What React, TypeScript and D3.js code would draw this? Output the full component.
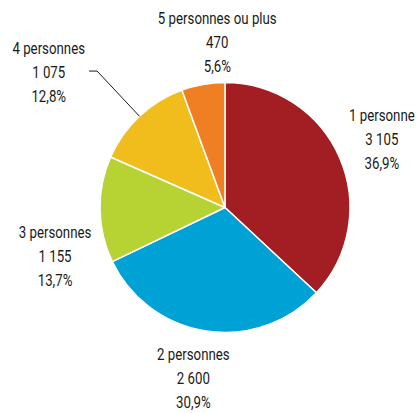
import React, { useRef, useEffect } from "react";
import * as d3 from "d3";

// Ménages selon le nombre de personnes
const categories = ["1 personne", "2 personnes", "3 personnes", "4 personnes", "5 personnes ou plus"];
const counts = [3105, 2600, 1155, 1075, 470];
const countLabels = ["3 105", "2 600", "1 155", "1 075", "470"];
const percentLabels = ["36,9%", "30,9%", "13,7%", "12,8%", "5,6%"];
const colors = ["#a21e23", "#00a1d4", "#b7d233", "#f1bd1d", "#ef7f22"];

// label nudges (dx, dy) from the label arc, and which labels get a leader line
const labelOffsets = [[1, -1], [-6, 2], [0, 46], [-60, 1], [22, 2]];
const leaders = [false, false, false, true, false];

const App = () => {
	const chartRef = useRef<SVGSVGElement>(null);

	useEffect(() => {
		const width = 419;
		const height = 413;
		const cx = 225;
		const cy = 207.5;
		const radius = 125;

		d3.select(chartRef.current).selectAll("*").remove();

		const svg = d3
			.select(chartRef.current)
			.attr("width", width)
			.attr("height", height)
			.style("display", "block")
			.style("position", "absolute")
			.style("left", "0px")
			.style("top", "0px");

		const g = svg.append("g").attr("transform", `translate(${cx}, ${cy})`);

		const pie = d3.pie<number>().sort(null).value(d => d);
		const arcs = pie(counts);

		const arc = d3.arc<d3.PieArcDatum<number>>().innerRadius(0).outerRadius(radius);

		g.selectAll("path.slice")
			.data(arcs)
			.enter()
			.append("path")
			.attr("class", "slice")
			.attr("d", arc)
			.attr("fill", (d, i) => colors[i])
			.attr("stroke", "#fff")
			.attr("stroke-width", 1.5)
			.attr("stroke-linejoin", "round");

		const labelArc = d3.arc<d3.PieArcDatum<number>>().innerRadius(170).outerRadius(170);
		const elbowArc = d3.arc<d3.PieArcDatum<number>>().innerRadius(187).outerRadius(187);
		const edgeArc = d3.arc<d3.PieArcDatum<number>>().innerRadius(radius).outerRadius(radius);

		// leader lines
		arcs.forEach((d, i) => {
			if (!leaders[i]) return;
			const p0 = edgeArc.centroid(d);
			const p1 = elbowArc.centroid(d);
			const p2 = [p1[0] - 8, p1[1]];
			g.append("polyline")
				.attr("points", [p0, p1, p2].map(p => p.join(",")).join(" "))
				.attr("fill", "none")
				.attr("stroke", "#1a1a1a")
				.attr("stroke-width", 1);
		});

		const labels = g.selectAll("g.label")
			.data(arcs)
			.enter()
			.append("g")
			.attr("class", "label")
			.attr("transform", (d, i) => {
				let [x, y] = labelArc.centroid(d);
				if (leaders[i]) {
					const e = elbowArc.centroid(d);
					y = e[1];
				}
				return `translate(${x + labelOffsets[i][0]}, ${y + labelOffsets[i][1]})`;
			});

		// condensed look: narrow the glyphs horizontally
		labels.each(function (d, i) {
			const lines = [categories[i], countLabels[i], percentLabels[i]];
			d3.select(this)
				.append("g")
				.attr("transform", "scale(0.78, 1)")
				.selectAll("text")
				.data(lines)
				.enter()
				.append("text")
				.attr("x", 0)
				.attr("y", (t, j) => (j - 1) * 24)
				.attr("dy", "0.36em")
				.attr("text-anchor", "middle")
				.style("font-family", "Roboto, 'Liberation Sans', sans-serif")
				.attr("font-size", 17)
				.attr("fill", "#1a1a1a")
				.text(t => t);
		});
	}, []);

	return <svg ref={chartRef}></svg>;
};

export default App;
